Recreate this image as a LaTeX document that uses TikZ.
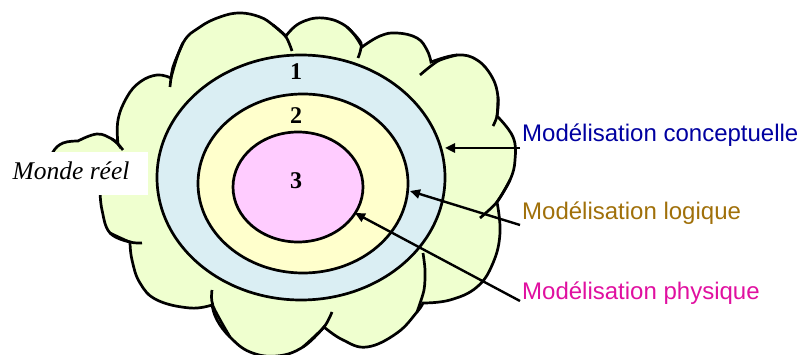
\documentclass[tikz,border=0pt]{standalone}
\usepackage{fontspec}
\setmainfont{Liberation Serif}
\newfontfamily\sansf{Liberation Sans}
\usetikzlibrary{arrows.meta,shapes.geometric}
\definecolor{cloudgreen}{HTML}{EFFFCF}
\definecolor{ringblue}{HTML}{DAEEF3}
\definecolor{ringyellow}{HTML}{FFFFCC}
\definecolor{ringpink}{HTML}{FFCCFF}
\definecolor{txtblue}{HTML}{0000A0}
\definecolor{txtbrown}{HTML}{A0700A}
\definecolor{txtmagenta}{HTML}{E010A0}
\begin{document}
\begin{tikzpicture}[x=1pt,y=-1pt,
  outline/.style={draw=black,line width=2.7pt},
  ring/.style={ellipse,draw=black,line width=2.7pt,inner sep=0pt},
  stubline/.style={draw=black,line width=2.7pt},
  pointer/.style={draw=black,line width=2.4pt,-{Triangle[length=10pt,width=9pt]}},
  digit/.style={font=\fontsize{24}{26}\selectfont\bfseries},
  label/.style={anchor=base west,inner sep=0pt,font=\sansf\fontsize{24}{28}\selectfont}]
\useasboundingbox (0,0) rectangle (800,355);
% cloud
\path[outline,fill=cloudgreen,line join=miter]
  plot[smooth,tension=0.7] coordinates {(130,242) (110,233) (102,210) (100,190)}
  -- plot[smooth,tension=0.7] coordinates {(60,182) (50,165) (53,152) (63,143) (78,141)}
  -- plot[smooth,tension=0.7] coordinates {(78,141) (97,134) (112,139) (118,144)}
  -- plot[smooth,tension=0.7] coordinates {(118,144) (118,120) (127,97) (140,82) (157,75) (171,78)}
  -- plot[smooth,tension=0.7] coordinates {(171,78) (183,43) (200,27) (220,17) (240,13) (260,17) (273,25) (286,36)}
  -- plot[smooth,tension=0.7] coordinates {(286,36) (300,23) (323,18) (347,27) (362,47)}
  -- plot[smooth,tension=0.7] coordinates {(362,47) (380,36) (397,33) (417,38) (427,50) (431,62)}
  -- plot[smooth,tension=0.7] coordinates {(431,62) (457,55) (477,60) (492,77) (498,97) (497,116)}
  -- plot[smooth,tension=0.7] coordinates {(497,116) (513,137) (515,160) (510,180) (497,202)}
  -- plot[smooth,tension=0.7] coordinates {(497,202) (500,233) (493,263) (477,287) (450,300) (423,303)}
  -- plot[smooth,tension=0.7] coordinates {(423,303) (417,312) (397,333) (367,347) (343,340) (324,327)}
  -- plot[smooth,tension=0.7] coordinates {(324,327) (303,347) (277,356) (250,352) (230,337) (217,320) (212,305)}
  -- plot[smooth,tension=0.7] coordinates {(212,305) (190,308) (157,300) (140,283) (132,260) (130,242)}
  -- cycle;
% inner ends of the cloud arcs
\draw[stubline] plot[smooth] coordinates {(183,43) (173,67) (170,87)};
\draw[stubline] plot[smooth] coordinates {(273,25) (286,37) (292,51)};
\draw[stubline] plot[smooth] coordinates {(347,27) (361,43) (358,58)};
\draw[stubline] plot[smooth] coordinates {(457,55) (438,61) (420,75)};
\draw[stubline] plot[smooth] coordinates {(498,97) (497,116) (493,126)};
\draw[stubline] plot[smooth] coordinates {(510,180) (497,202) (480,218)};
\draw[stubline] plot[smooth] coordinates {(417,312) (424,290) (425,270) (423,253)};
\draw[stubline] plot[smooth] coordinates {(303,347) (324,327) (332,312)};
\draw[stubline] plot[smooth] coordinates {(230,337) (213,306) (212,290)};
\draw[stubline] plot[smooth] coordinates {(110,233) (130,242) (142,243)};
\draw[stubline] plot[smooth] coordinates {(112,139) (118,144) (123,150)};
% rings
\node[ring,fill=ringblue,minimum width=288pt,minimum height=245pt] (outer) at (301,177.5) {};
\node[ring,fill=ringyellow,minimum width=210pt,minimum height=179pt] (middle) at (303,183.5) {};
\node[ring,fill=ringpink,minimum width=130pt,minimum height=110pt] (inner) at (298,187) {};
\node[digit] (n1) at (296,72) {1};
\node[digit] (n2) at (296,116) {2};
\node[digit] (n3) at (296,181) {3};
% real world label
\node[fill=white,inner sep=0pt,minimum width=143pt,minimum height=43pt] (box) at (76.5,173.5) {};
\node[anchor=base,inner sep=0pt,font=\fontsize{25.5}{28}\selectfont\itshape] (monde) at (71,180) {Monde réel};
% labels
\node[label,text=txtblue] (lc) at (522,142) {Modélisation conceptuelle};
\node[label,text=txtbrown] (ll) at (522,220) {Modélisation logique};
\node[label,text=txtmagenta] (lp) at (522,299) {Modélisation physique};
\coordinate (lcs) at (520,148);
\coordinate (lce) at (445,148);
\coordinate (lls) at (520,225);
\coordinate (lle) at (410,191);
\coordinate (lps) at (520,301);
\coordinate (lpe) at (355,213);
\draw[pointer] (lcs) -- (lce);
\draw[pointer] (lls) -- (lle);
\draw[pointer] (lps) -- (lpe);
\end{tikzpicture}
\end{document}
